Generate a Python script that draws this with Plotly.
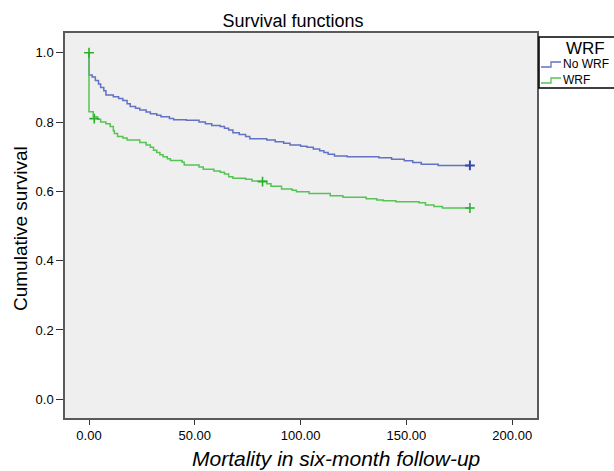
import plotly.graph_objects as go

# --- data ---
no_wrf_t = [0, 0, 1.5, 3, 4.5, 5.5, 7, 8, 11.5, 14, 16, 18, 19.5, 22, 24, 27, 29, 32, 34, 38, 40,
            46, 52, 55, 58, 62, 64, 66, 68, 71, 74, 76, 84, 88, 92, 95, 100, 103, 106, 109, 111,
            113, 116, 122, 137, 143, 149, 153, 157, 165, 180]
no_wrf_s = [1.0, 0.936, 0.93, 0.92, 0.91, 0.90, 0.89, 0.878, 0.873, 0.868, 0.862, 0.853, 0.845,
            0.84, 0.835, 0.829, 0.824, 0.82, 0.815, 0.81, 0.807, 0.805, 0.80, 0.795, 0.79, 0.787,
            0.782, 0.777, 0.769, 0.764, 0.758, 0.752, 0.748, 0.743, 0.739, 0.734, 0.73, 0.727,
            0.722, 0.717, 0.712, 0.707, 0.702, 0.700, 0.697, 0.693, 0.688, 0.683, 0.678, 0.675, 0.675]

wrf_t = [0, 0, 2, 4, 5.5, 8, 10, 11.5, 12, 13.5, 16, 18, 24, 27, 29, 30.5, 32, 33.5, 35, 37, 38.5,
         44, 45, 52, 54, 59, 62, 64, 66, 68, 74, 77, 84, 86, 91, 96, 98, 104, 114, 120, 131, 136,
         139, 145, 156, 159, 163, 167, 180]
wrf_s = [1.0, 0.83, 0.815, 0.808, 0.80, 0.795, 0.787, 0.775, 0.767, 0.758, 0.754, 0.748, 0.741,
         0.734, 0.727, 0.719, 0.712, 0.706, 0.70, 0.694, 0.689, 0.684, 0.676, 0.67, 0.664, 0.659,
         0.655, 0.65, 0.642, 0.638, 0.635, 0.63, 0.622, 0.615, 0.607, 0.603, 0.599, 0.594, 0.587,
         0.583, 0.579, 0.575, 0.573, 0.57, 0.567, 0.561, 0.556, 0.552, 0.552]

no_wrf_cens_t = [180]
no_wrf_cens_s = [0.675]
wrf_cens_t = [0, 2.5, 82, 180]
wrf_cens_s = [1.0, 0.81, 0.628, 0.552]

x_ticks = [0, 50, 100, 150, 200]
y_ticks = [0.0, 0.2, 0.4, 0.6, 0.8, 1.0]

group_names = ["No WRF", "WRF"]
legend_title = "WRF"

BLUE = "#6272c4"
GREEN = "#55c455"
BLUE_D = "#3549ab"
GREEN_D = "#2bb02b"
FONT = "Liberation Sans, Arial, sans-serif"

# plot area in pixels
L, R, T, B = 65, 537, 33, 418
PW, PH = R - L, B - T


def px(xp):
    return (xp - L) / PW


def py(yp):
    return (B - yp) / PH


fig = go.Figure()
fig.add_trace(go.Scatter(x=no_wrf_t, y=no_wrf_s, mode="lines", line_shape="hv",
                         line=dict(color=BLUE, width=1.5), name=group_names[0], showlegend=False))
fig.add_trace(go.Scatter(x=wrf_t, y=wrf_s, mode="lines", line_shape="hv",
                         line=dict(color=GREEN, width=1.5), name=group_names[1], showlegend=False))
fig.add_trace(go.Scatter(x=no_wrf_cens_t, y=no_wrf_cens_s, mode="markers", showlegend=False,
                         marker=dict(symbol="cross-thin", size=7, line=dict(color=BLUE_D, width=2))))
fig.add_trace(go.Scatter(x=wrf_cens_t, y=wrf_cens_s, mode="markers", showlegend=False,
                         marker=dict(symbol="cross-thin", size=7, line=dict(color=GREEN_D, width=1.6))))

fig.update_layout(
    width=614, height=471,
    margin=dict(l=L, r=614 - R, t=T, b=471 - B, autoexpand=False),
    paper_bgcolor="white",
    plot_bgcolor="#efefef",
    font=dict(family=FONT, color="black", size=13),
    title=dict(text="Survival functions", x=293 / 614, xanchor="center",
               y=1 - 21 / 471, yanchor="middle", yref="container",
               font=dict(size=18, family=FONT, color="black")),
    showlegend=False,
)
fig.update_xaxes(range=[-11.34, 211.7], tickvals=x_ticks, tickformat=".2f",
                 showgrid=False, zeroline=False, showline=True, mirror=True,
                 linecolor="#5a5a5a", linewidth=1.5, ticks="outside", ticklen=5,
                 tickcolor="#333", tickwidth=1.2, tickfont=dict(size=13))
fig.update_yaxes(range=[-0.054, 1.057], tickvals=y_ticks, tickformat=".1f",
                 showgrid=False, zeroline=False, showline=True, mirror=True,
                 linecolor="#5a5a5a", linewidth=1.5, ticks="outside", ticklen=7,
                 tickcolor="#333", tickwidth=1.2, tickfont=dict(size=13))

# axis titles
fig.add_annotation(text="<i>Mortality in six-month follow-up</i>", xref="paper", yref="paper",
                   x=px(336), y=py(458), xanchor="center", yanchor="middle",
                   showarrow=False, font=dict(size=21, family=FONT, color="black"))
fig.add_annotation(text="Cumulative survival", xref="paper", yref="paper",
                   x=px(21), y=py(229), xanchor="center", yanchor="middle",
                   showarrow=False, textangle=-90, font=dict(size=19, family=FONT, color="black"))

# legend (box, title, step-shaped keys, labels)
fig.add_shape(type="rect", xref="paper", yref="paper",
              x0=px(539), x1=px(618), y0=py(88), y1=py(37),
              line=dict(color="black", width=1.5), fillcolor="white", layer="above")
fig.add_annotation(text=legend_title, xref="paper", yref="paper", x=px(585), y=py(48),
                   xanchor="center", yanchor="middle", showarrow=False,
                   font=dict(size=17, family=FONT, color="black"))
for i, (name, col) in enumerate(zip(group_names, [BLUE, GREEN])):
    yc = 64 + i * 16
    path = (f"M {px(541)} {py(yc + 3)} L {px(551)} {py(yc + 3)} L {px(551)} {py(yc - 2)} "
            f"L {px(561)} {py(yc - 2)}")
    fig.add_shape(type="path", xref="paper", yref="paper", path=path,
                  line=dict(color=col, width=1.3), layer="above")
    fig.add_annotation(text=name, xref="paper", yref="paper", x=px(561), y=py(yc),
                       xanchor="left", yanchor="middle", showarrow=False,
                       font=dict(size=12, family=FONT, color="black"))

fig.write_html("out.html")
